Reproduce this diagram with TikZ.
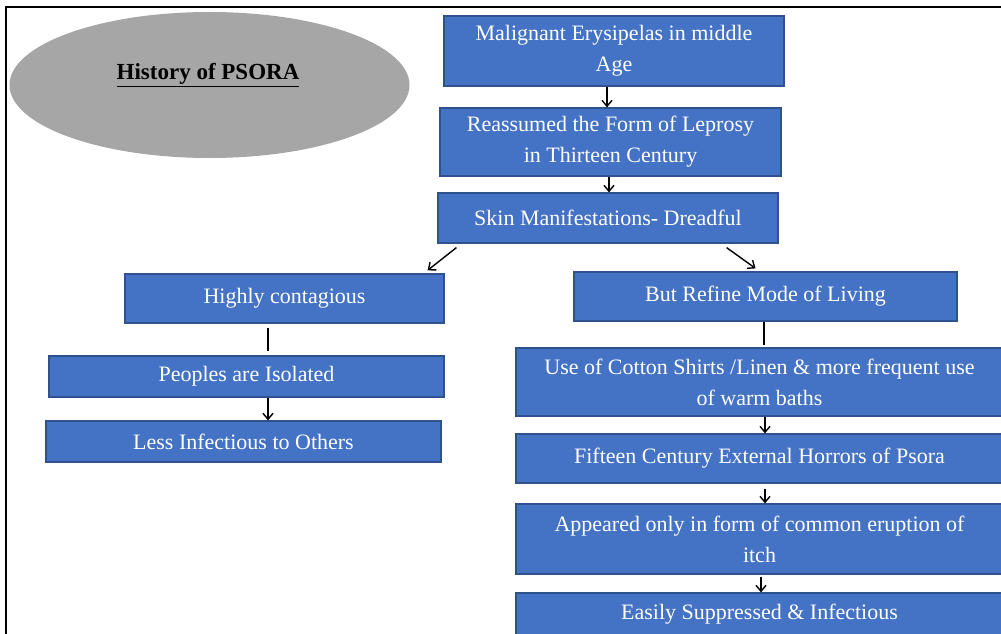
\documentclass[tikz,border=0pt]{standalone}
\usepackage{fontspec}
\setmainfont{Liberation Serif}
\usetikzlibrary{positioning}
\usetikzlibrary{calc}
\usetikzlibrary{shapes.geometric, arrows.meta}
\definecolor{boxblue}{HTML}{4472C4}
\definecolor{boxedge}{HTML}{2F528F}
\definecolor{ovalgrey}{HTML}{A6A6A6}
\tikzset{
  bluebox/.style={draw=boxedge, fill=boxblue, text=white, line width=1.2pt, inner sep=0pt, align=center, font=\fontsize{22}{31}\selectfont},
  arr/.style={-{Straight Barb[length=6pt,width=10pt]}, line width=1.4pt},
  link/.style={line width=1.4pt}
}

\begin{document}
\begin{tikzpicture}[x=1pt, y=-1pt]
                \useasboundingbox (0,0) rectangle (1001,634);
                \clip (0,0) rectangle (1001,634);
                \draw[line width=2pt] (6,640) -- (6,7) -- (1005,7);

                \node[ellipse, fill=ovalgrey, inner sep=0pt, minimum width=400pt, minimum height=146pt] (oval) at (209.5,85) {};
                \node[font=\bfseries\fontsize{23}{28}\selectfont] (title) at ($(oval.center)+(-1.5,-10)$) {\underline{History of PSORA}};

                % centre column
                \node[bluebox, minimum width=340pt, minimum height=70pt] (mal) at (614,51) {Malignant Erysipelas in middle\\Age};
                \node[bluebox, minimum width=341pt, minimum height=68pt] (lep) at (610.5,142) {Reassumed the Form of Leprosy\\in Thirteen Century};
                \node[bluebox, minimum width=340pt, minimum height=50pt] (skin) at (608,218) {Skin Manifestations- Dreadful};

                % left branch
                \node[bluebox, minimum width=319pt, minimum height=49pt] (cont) at (284.5,298.5) {Highly contagious};
                \node[bluebox, minimum width=395pt, minimum height=41pt] (iso) at (246.5,376.5) {Peoples are Isolated};
                \node[bluebox, minimum width=395pt, minimum height=41pt] (less) at (243.5,441.5) {Less Infectious to Others};

                % right branch
                \node[bluebox, minimum width=383pt, minimum height=49pt] (refine) at (765.5,296.5) {But Refine Mode of Living};
                \node[bluebox, minimum width=487pt, minimum height=68pt] (cotton) at (759.5,382) {Use of Cotton Shirts /Linen \& more frequent use\\of warm baths};
                \node[bluebox, minimum width=487pt, minimum height=49pt] (horror) at (759.5,458.5) {Fifteen Century External Horrors of Psora};
                \node[bluebox, minimum width=487pt, minimum height=70pt] (itch) at (759.5,539) {Appeared only in form of common eruption of\\itch};
                \node[bluebox, minimum width=487pt, minimum height=43pt] (easy) at (759.5,614.5) {Easily Suppressed \& Infectious};

                \draw[arr] ([shift={(-7,0)}]mal.south) -- ([shift={(-3.5,0)}]lep.north);
                \draw[arr] ([shift={(-1.5,0)}]lep.south) -- ([shift={(1,0)}]skin.north);
                \draw[arr] ([shift={(19,4)}]skin.south west) -- ([shift={(-17,-3)}]cont.north east);
                \draw[arr] ([shift={(-52,4)}]skin.south east) -- ([shift={(-10,-3)}]refine.north);

                \draw[link] ([shift={(-16.5,4)}]cont.south) -- ([shift={(21.5,-4)}]iso.north);
                \draw[arr] ([shift={(21.5,0)}]iso.south) -- ([shift={(24.5,0)}]less.north);

                \draw[link] ([shift={(-1.5,0)}]refine.south) -- ([shift={(4.5,-2)}]cotton.north);
                \draw[arr] ([shift={(5.5,0)}]cotton.south) -- ([shift={(5.5,0)}]horror.north);
                \draw[arr] ([shift={(5.5,5)}]horror.south) -- ([shift={(5.5,0)}]itch.north);
                \draw[arr] ([shift={(1.5,2)}]itch.south) -- ([shift={(1.5,0)}]easy.north);
\end{tikzpicture}
\end{document}
